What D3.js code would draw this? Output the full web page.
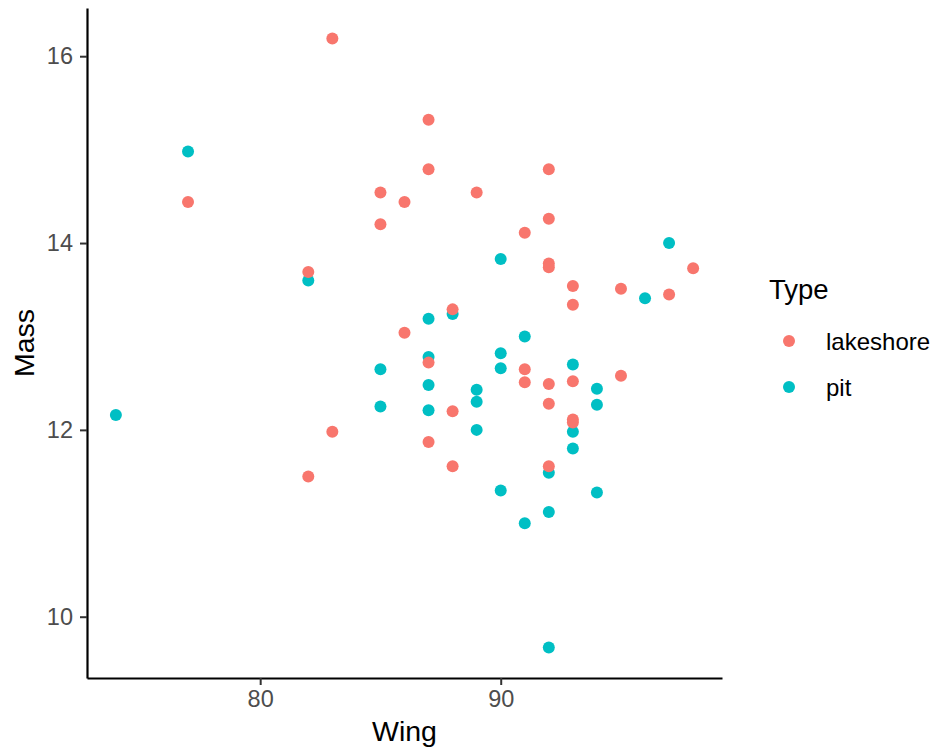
<!DOCTYPE html>
<html>
<head>
<meta charset="utf-8">
<script src="https://cdn.jsdelivr.net/npm/d3@7"></script>
<style>
  body { margin: 0; background: #fff; }
  text { font-family: "Liberation Sans", Arial, sans-serif; }
</style>
</head>
<body>
<div id="chart"></div>
<script>
// Wing vs Mass scatter, coloured by Type
var width = 930, height = 751;
var margin = { top: 8, right: 208, bottom: 73, left: 87 };

var LAKE_COLOR = '#F8766D';
var PIT_COLOR = '#00BFC4';

var types = ['lakeshore', 'pit'];

var lakeWing = [77, 82, 82, 83, 83, 85, 85, 86, 86, 87, 87, 87, 87, 88, 88, 88, 89, 91, 91, 91,
  92, 92, 92, 92, 92, 92, 92, 93, 93, 93, 93, 93, 95, 95, 97, 98];
var lakeMass = [14.44, 13.69, 11.50, 16.19, 11.98, 14.54, 14.20, 14.44, 13.04, 15.32, 14.79, 12.72, 11.87,
  13.29, 12.20, 11.61, 14.54, 14.11, 12.65, 12.51, 14.79, 14.26, 13.78, 13.74, 12.49, 12.28, 11.61,
  13.54, 13.34, 12.52, 12.11, 12.08, 13.51, 12.58, 13.45, 13.73];

var pitWing = [74, 77, 82, 85, 85, 87, 87, 87, 87, 88, 89, 89, 89, 90, 90, 90, 90, 91, 91,
  92, 92, 92, 93, 93, 93, 94, 94, 94, 96, 97];
var pitMass = [12.16, 14.98, 13.60, 12.65, 12.25, 13.19, 12.78, 12.48, 12.21, 13.24, 12.43, 12.30, 12.00,
  13.83, 12.82, 12.66, 11.35, 13.00, 11.00, 11.54, 11.12, 9.67, 12.70, 11.98, 11.80, 12.44, 12.27, 11.33,
  13.41, 14.00];

var xTicks = [80, 90];
var yTicks = [10, 12, 14, 16];

var points = [];
pitWing.forEach(function(w, i) { points.push({ wing: w, mass: pitMass[i], type: 'pit' }); });
lakeWing.forEach(function(w, i) { points.push({ wing: w, mass: lakeMass[i], type: 'lakeshore' }); });

var svg = d3.select("#chart").append("svg")
  .attr("width", width)
  .attr("height", height);

// ggplot style 5% expansion on both sides
var allWing = lakeWing.concat(pitWing), allMass = lakeMass.concat(pitMass);
var wx = d3.extent(allWing), my = d3.extent(allMass);
var padX = (wx[1] - wx[0]) * 0.05, padY = (my[1] - my[0]) * 0.05;

var x = d3.scaleLinear()
  .domain([wx[0] - padX, wx[1] + padX])
  .range([margin.left, width - margin.right]);

var y = d3.scaleLinear()
  .domain([my[0] - padY, my[1] + padY])
  .range([height - margin.bottom, margin.top]);

var color = d3.scaleOrdinal().domain(types).range([LAKE_COLOR, PIT_COLOR]);

var xAxis = svg.append("g")
  .attr("transform", "translate(0," + (height - margin.bottom) + ")")
  .call(d3.axisBottom(x).tickValues(xTicks).tickSize(7).tickPadding(5).tickSizeOuter(0));

var yAxis = svg.append("g")
  .attr("transform", "translate(" + margin.left + ",0)")
  .call(d3.axisLeft(y).tickValues(yTicks).tickSize(7).tickPadding(7).tickSizeOuter(0));

[xAxis, yAxis].forEach(function(a) {
  a.select(".domain").attr("stroke", "#000").attr("stroke-width", 2.2);
  a.selectAll(".tick line").attr("stroke", "#333").attr("stroke-width", 2);
  a.selectAll(".tick text").attr("fill", "#4D4D4D")
    .style("font-size", "23.5px")
    .style("font-family", "Liberation Sans, Arial, sans-serif");
});

svg.append("g")
  .selectAll("circle")
  .data(points)
  .enter()
  .append("circle")
  .attr("cx", function(d) { return x(d.wing); })
  .attr("cy", function(d) { return y(d.mass); })
  .attr("r", 6)
  .attr("fill", function(d) { return color(d.type); });

// axis titles
svg.append("text")
  .attr("x", (margin.left + width - margin.right) / 2)
  .attr("y", 741)
  .attr("text-anchor", "middle")
  .attr("font-size", "28.5px")
  .attr("fill", "#000")
  .text("Wing");

svg.append("text")
  .attr("transform", "translate(34," + ((margin.top + height - margin.bottom) / 2) + ")rotate(-90)")
  .attr("text-anchor", "middle")
  .attr("font-size", "28.5px")
  .attr("fill", "#000")
  .text("Mass");

// legend
var legend = svg.append("g");
legend.append("text")
  .attr("x", 769)
  .attr("y", 299)
  .attr("font-size", "27.5px")
  .attr("fill", "#000")
  .text("Type");

var item = legend.selectAll("g.item")
  .data(types)
  .enter()
  .append("g")
  .attr("class", "item")
  .attr("transform", function(d, i) { return "translate(0," + (341 + i * 46) + ")"; });

item.append("circle")
  .attr("cx", 789)
  .attr("cy", 0)
  .attr("r", 6)
  .attr("fill", function(d) { return color(d); });

item.append("text")
  .attr("x", 826)
  .attr("y", 9)
  .attr("font-size", "24px")
  .attr("fill", "#000")
  .text(function(d) { return d; });
</script>
</body>
</html>
